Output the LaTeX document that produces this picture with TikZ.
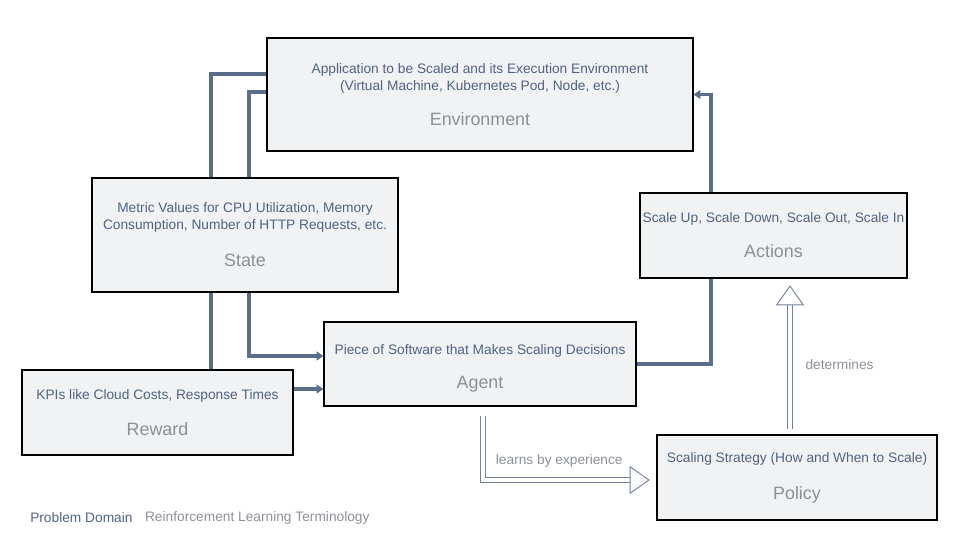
\documentclass[tikz,border=0pt]{standalone}
\usepackage{fontspec}
\setmainfont{Liberation Sans}
\usetikzlibrary{arrows.meta, calc, backgrounds, positioning}
\definecolor{domainblue}{HTML}{4F6382}
\definecolor{termgray}{HTML}{8C9098}
\definecolor{flowblue}{HTML}{5A6E8A}
\definecolor{boxfill}{HTML}{F1F2F3}
\definecolor{hollowblue}{HTML}{74819A}
\newcommand{\termfont}{\fontsize{13.4}{16}\selectfont}
\newcommand{\descfont}{\fontsize{10.3}{12.75}\selectfont}
\newcommand{\term}[1]{{\termfont\color{termgray}#1}}

\begin{document}
\begin{tikzpicture}[
        x=0.75pt, y=0.75pt,
        box/.style={rectangle, draw, line width=0.9pt, fill=boxfill, align=center, inner sep=0pt, font=\descfont, text=domainblue},
        flow/.style={draw=flowblue, line width=2.5pt},
        flowarrow/.style={flow, -{Triangle[length=5pt, width=6.5pt]}},
        learn/.style={draw=hollowblue, line width=0.7pt, double=white, double distance=3.4pt, -{Triangle[open, length=15pt, width=21pt, line width=0.7pt]}},
        label/.style={font=\descfont, text=termgray},
        legend/.style={font=\descfont, inner sep=0pt}
        ]
        \useasboundingbox (0,0) rectangle (960,540);

        % Nodes
        \node (env) [box, minimum width=319.5pt, minimum height=84.75pt] at (480,445.5) {Application to be Scaled and its Execution Environment\\(Virtual Machine, Kubernetes Pod, Node, etc.)\\[14pt]\term{Environment}};
        \node (state) [box, minimum width=229.5pt, minimum height=85.5pt] at (245,305) {Metric Values for CPU Utilization, Memory\\Consumption, Number of HTTP Requests, etc.\\[15pt]\term{State}};
        \node (actions) [box, minimum width=200.25pt, minimum height=63.75pt] at (773.5,304.5) {Scale Up, Scale Down, Scale Out, Scale In\\[13.5pt]\term{Actions}};
        \node (agent) [box, minimum width=234pt, minimum height=63pt] at (480,176) {\rule{0pt}{14pt}Piece of Software that Makes Scaling Decisions\\[13pt]\term{Agent}};
        \node (reward) [box, minimum width=203.25pt, minimum height=63.75pt] at (157.5,127.5) {KPIs like Cloud Costs, Response Times\\[14pt]\term{Reward}};
        \node (policy) [box, minimum width=210pt, minimum height=63.75pt] at (797,62.5) {Scaling Strategy (How and When to Scale)\\[15pt]\term{Policy}};

        % Legend
        \node (domain) [legend, text=domainblue, anchor=west] at (30,22) {Problem Domain};
        \node (terms) [legend, text=termgray, right=9pt of domain] {Reinforcement Learning Terminology};

        % Arrows behind the boxes
        \begin{scope}[on background layer]
            \draw [flow] ($(reward.north)+(53.5,0)$) |- ($(env.west)+(0,20.5)$);
            \draw [flowarrow] ($(env.west)+(0,2.5)$) -| ($(state.south)+(4,0)$) |- ($(agent.west)+(0,8)$);
            \draw [flowarrow] ($(reward.east)+(0,23.5)$) -- ($(agent.west)+(0,-25)$);
            \draw [flowarrow] (agent.east) -| ($(actions.north)+(-62.5,0)$) |- (env.east);
        \end{scope}

        % Arrows with labels
        \draw [learn, shorten <=7pt, shorten >=5pt] ($(agent.south)+(3,0)$) |- node[label, pos=0.72, above=6pt] {learns by experience} ($(policy.west)+(0,-2.5)$);
        \draw [learn, shorten <=4pt, shorten >=5pt] ($(policy.north)+(-7,0)$) -- node[label, pos=0.45, right=8pt] {determines} ($(actions.south)+(16.5,0)$);

    \end{tikzpicture}
\end{document}
